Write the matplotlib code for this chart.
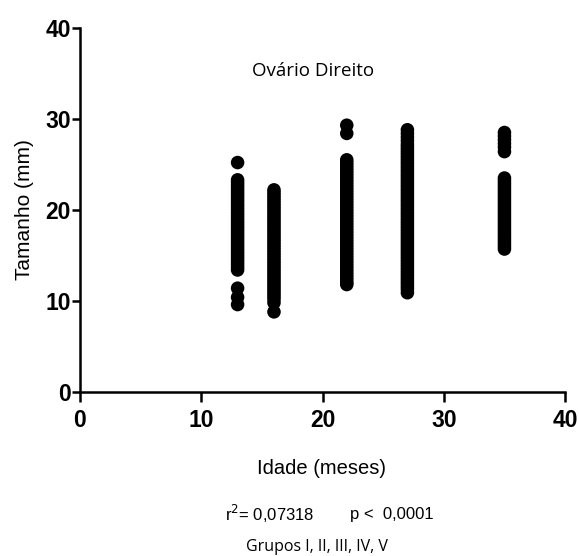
import matplotlib
matplotlib.use("Agg")
import matplotlib.pyplot as plt

# Age groups (months) and right-ovary size measurements (mm)
ages = [13, 16, 22, 27, 35]
size_13 = [25.2, 23.3, 23.0, 22.7, 22.4, 22.1, 21.8, 21.5, 21.2, 20.9, 20.6,
           20.3, 20.0, 19.7, 19.4, 19.1, 18.8, 18.5, 18.2, 17.9, 17.6, 17.3,
           17.0, 16.7, 16.4, 16.1, 15.8, 15.5, 15.2, 14.9, 14.6, 14.3, 14.0,
           13.7, 13.4, 11.4, 10.4, 9.6]
size_16 = [22.2, 21.9, 21.6, 21.3, 21.0, 20.7, 20.4, 20.1, 19.8, 19.5, 19.2,
           18.9, 18.6, 18.3, 18.0, 17.7, 17.4, 17.1, 16.8, 16.5, 16.2, 15.9,
           15.6, 15.3, 15.0, 14.7, 14.4, 14.1, 13.8, 13.5, 13.2, 12.9, 12.6,
           12.3, 12.0, 11.7, 11.4, 11.1, 10.8, 10.5, 10.2, 9.8, 8.8]
size_22 = [29.3, 28.4, 25.5, 25.2, 24.9, 24.6, 24.3, 24.0, 23.7, 23.4, 23.1,
           22.8, 22.5, 22.2, 21.9, 21.6, 21.3, 21.0, 20.7, 20.4, 20.1, 19.8,
           19.5, 19.2, 18.9, 18.6, 18.3, 18.0, 17.7, 17.4, 17.1, 16.8, 16.5,
           16.2, 15.9, 15.6, 15.3, 15.0, 14.7, 14.4, 14.1, 13.8, 13.5, 13.2,
           12.9, 12.6, 12.3, 12.0, 11.8]
size_27 = [28.8, 28.4, 28.0, 27.6, 27.2, 26.9, 26.6, 26.3, 26.0, 25.7, 25.4,
           25.1, 24.8, 24.5, 24.2, 23.9, 23.6, 23.3, 23.0, 22.7, 22.4, 22.1,
           21.8, 21.5, 21.2, 20.9, 20.6, 20.3, 20.0, 19.7, 19.4, 19.1, 18.8,
           18.5, 18.2, 17.9, 17.6, 17.3, 17.0, 16.7, 16.4, 16.1, 15.8, 15.5,
           15.2, 14.9, 14.6, 14.3, 14.0, 13.7, 13.4, 13.1, 12.8, 12.5, 12.2,
           11.9, 11.6, 11.3, 10.9]
size_35 = [28.5, 28.1, 27.7, 27.3, 26.9, 26.4, 23.5, 23.2, 22.9, 22.6, 22.3,
           22.0, 21.7, 21.4, 21.1, 20.8, 20.5, 20.2, 19.9, 19.6, 19.3, 19.0,
           18.7, 18.4, 18.1, 17.8, 17.5, 17.2, 16.9, 16.6, 16.3, 16.0, 15.7]
sizes = [size_13, size_16, size_22, size_27, size_35]

x_ticks = [0, 10, 20, 30, 40]
y_ticks = [0, 10, 20, 30, 40]

title = "Ovário Direito"
x_label = "Idade (meses)"
y_label = "Tamanho (mm)"
r2_text = r"r$^{2}$= 0,07318"
p_text = "p <  0,0001"
groups_text = "Grupos I, II, III, IV, V"

fig = plt.figure(figsize=(5.79, 5.56), dpi=100)
ax = fig.add_axes([0.138, 0.295, 0.838, 0.655])

for age, vals in zip(ages, sizes):
    ax.scatter([age] * len(vals), vals, s=95, color="black",
               edgecolors="none", clip_on=False, zorder=3)

ax.set_xlim(0, 40)
ax.set_ylim(0, 40)
ax.set_xticks(x_ticks)
ax.set_yticks(y_ticks)
for side in ("top", "right"):
    ax.spines[side].set_visible(False)
for side in ("left", "bottom"):
    ax.spines[side].set_linewidth(1.8)
ax.tick_params(axis="x", direction="out", length=7.5, width=1.8, pad=5)
ax.tick_params(axis="y", direction="out", length=5.5, width=1.8, pad=1)
for lbl in ax.get_xticklabels() + ax.get_yticklabels():
    lbl.set_fontfamily("Liberation Sans")
    lbl.set_fontweight("bold")
    lbl.set_fontsize(16.5)

ax.text(19.2, 35.3, title, ha="center", va="center",
        fontsize=13.5, family=["Open Sans", "DejaVu Sans"])

ax.set_ylabel(y_label, fontsize=15, family="Liberation Sans", labelpad=8)

fig.text(0.556, 0.158, x_label, ha="center", va="center",
         fontsize=14.5, family="Liberation Sans")
fig.text(0.466, 0.075, r2_text, ha="center", va="center",
         fontsize=12, family=["Liberation Sans Narrow", "Liberation Sans"])
fig.text(0.676, 0.075, p_text, ha="center", va="center",
         fontsize=12, family=["Liberation Sans Narrow", "Liberation Sans"])
fig.text(0.548, 0.016, groups_text, ha="center", va="center",
         fontsize=11.5, family=["Open Sans", "DejaVu Sans"])

fig.savefig("out.png", dpi=100)
